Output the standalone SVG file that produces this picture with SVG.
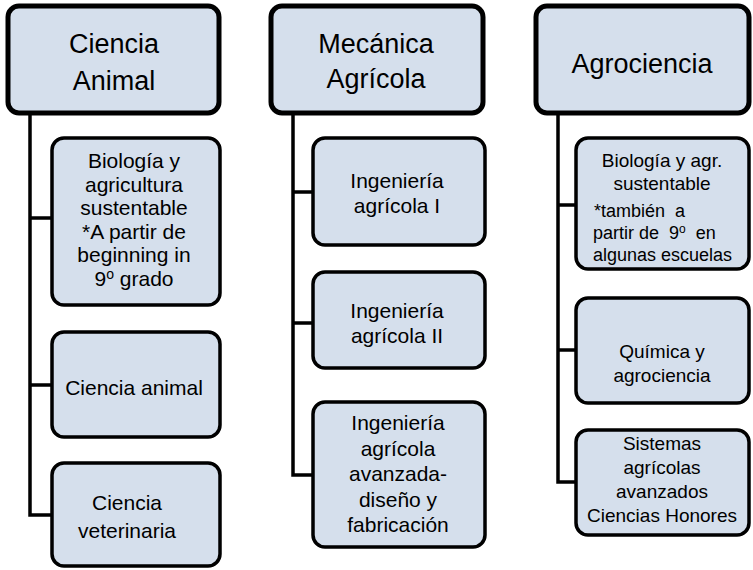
<svg xmlns="http://www.w3.org/2000/svg" width="753" height="570" viewBox="0 0 753 570">
<style>
.top{fill:#D5DFEC;stroke:#000;stroke-width:5}
.child{fill:#D5DFEC;stroke:#000;stroke-width:3.5}
.conn{fill:none;stroke:#000;stroke-width:3.5;stroke-linecap:square}
text{font-family:"Liberation Sans",Arial,sans-serif;fill:#000;text-anchor:middle}
.t{font-size:27px}
.c{font-size:21px}
.r{font-size:19px}
.l{text-anchor:start;font-size:18px;white-space:pre}
</style>
<rect width="753" height="570" fill="#fff"/>
<g id="connectors">
<path class="conn" d="M30,113 V515 H52 M30,218 H52 M30,385 H52"/>
<path class="conn" d="M293,113 V475 H313 M293,192 H313 M293,323 H313"/>
<path class="conn" d="M558,113 V482 H576 M558,205 H576 M558,350 H576"/>
</g>
<g id="ciencia-animal">
<rect class="top" x="8" y="6" width="211" height="107" rx="11"/>
<text class="t" x="114" y="53">Ciencia</text>
<text class="t" x="114" y="90">Animal</text>
</g>
<g id="biologia-agricultura">
<rect class="child" x="52" y="138" width="168" height="167" rx="12"/>
<text class="c" x="134" y="168">Biología y</text>
<text class="c" x="134" y="191.5">agricultura</text>
<text class="c" x="134" y="215">sustentable</text>
<text class="c" x="134" y="238.5">*A partir de</text>
<text class="c" x="134" y="262">beginning in</text>
<text class="c" x="134" y="285.5">9<tspan font-size="14" dy="-7">o</tspan><tspan dy="7"> grado</tspan></text>
</g>
<g id="ciencia-animal-curso">
<rect class="child" x="52" y="332" width="168" height="105" rx="12"/>
<text class="c" x="134" y="395">Ciencia animal</text>
</g>
<g id="ciencia-veterinaria">
<rect class="child" x="52" y="463" width="168" height="103" rx="12"/>
<text class="c" x="127" y="510">Ciencia</text>
<text class="c" x="127" y="538">veterinaria</text>
</g>
<g id="mecanica-agricola">
<rect class="top" x="271" y="6" width="212" height="107" rx="11"/>
<text class="t" x="376" y="53">Mecánica</text>
<text class="t" x="376" y="88">Agrícola</text>
</g>
<g id="ingenieria-1">
<rect class="child" x="313" y="138" width="172" height="107" rx="12"/>
<text class="c" x="397" y="188">Ingeniería</text>
<text class="c" x="397" y="213">agrícola I</text>
</g>
<g id="ingenieria-2">
<rect class="child" x="313" y="272" width="172" height="96" rx="12"/>
<text class="c" x="397" y="318">Ingeniería</text>
<text class="c" x="397" y="343">agrícola II</text>
</g>
<g id="ingenieria-avanzada">
<rect class="child" x="313" y="402" width="172" height="145" rx="12"/>
<text class="c" x="398" y="430">Ingeniería</text>
<text class="c" x="398" y="455.5">agrícola</text>
<text class="c" x="398" y="481">avanzada-</text>
<text class="c" x="398" y="506.5">diseño y</text>
<text class="c" x="398" y="532">fabricación</text>
</g>
<g id="agrociencia">
<rect class="top" x="536" y="6" width="213" height="107" rx="11"/>
<text class="t" x="642" y="73">Agrociencia</text>
</g>
<g id="biologia-agr">
<rect class="child" x="576" y="138" width="173" height="131" rx="12"/>
<text class="r" x="662" y="167">Biología y agr.</text>
<text class="r" x="662" y="190">sustentable</text>
<text class="l" x="594" y="217">*también  a</text>
<text class="l" x="593" y="239">partir de  9<tspan font-size="12" dy="-6">o</tspan><tspan dy="6">  en</tspan></text>
<text class="l" x="593" y="261">algunas escuelas</text>
</g>
<g id="quimica">
<rect class="child" x="576" y="298" width="173" height="105" rx="12"/>
<text class="r" x="662" y="358">Química y</text>
<text class="r" x="662" y="382">agrociencia</text>
</g>
<g id="sistemas">
<rect class="child" x="576" y="430" width="173" height="105" rx="12"/>
<text class="r" x="662" y="450">Sistemas</text>
<text class="r" x="662" y="474">agrícolas</text>
<text class="r" x="662" y="498">avanzados</text>
<text class="r" x="662" y="522">Ciencias Honores</text>
</g>
</svg>
